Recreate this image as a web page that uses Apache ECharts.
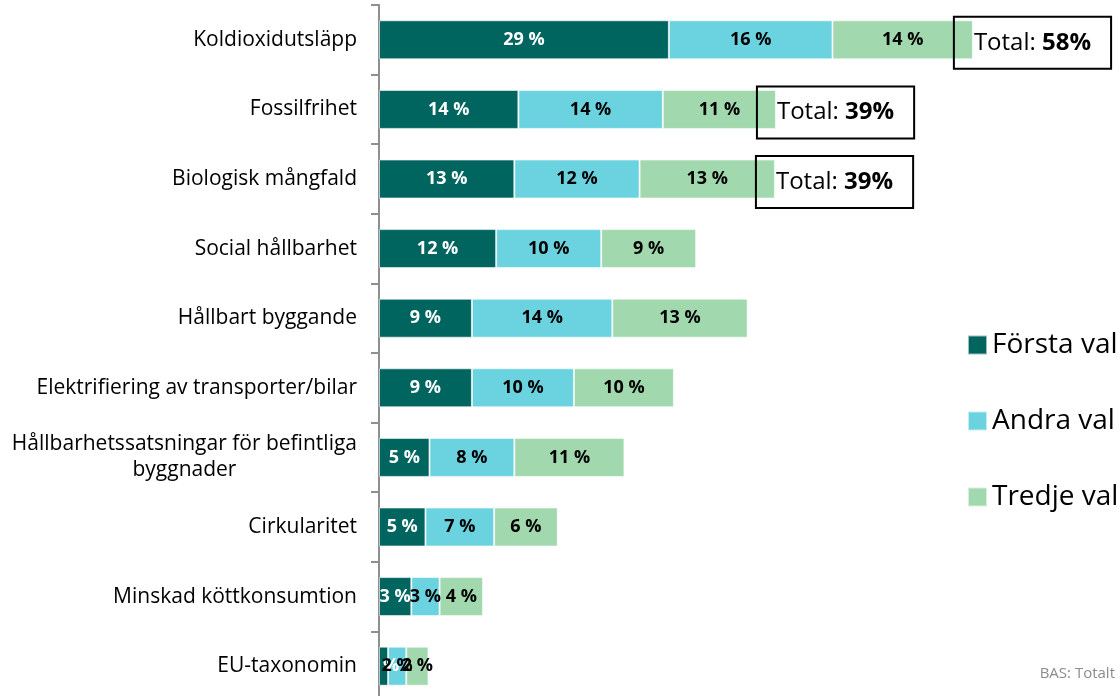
<!DOCTYPE html>
<html>
<head>
<meta charset="utf-8">
<title>Val av hållbarhetsområden</title>
<script src="https://cdn.jsdelivr.net/npm/echarts@6/dist/echarts.min.js"></script>
<style>
  html, body { margin: 0; padding: 0; background: #ffffff; }
  #chart { width: 1120px; height: 696px; }
</style>
</head>
<body>
<div id="chart"></div>
<script>
// kategorier, uppifrån och ned
const categories = [
  'Koldioxidutsläpp',
  'Fossilfrihet',
  'Biologisk mångfald',
  'Social hållbarhet',
  'Hållbart byggande',
  'Elektrifiering av transporter/bilar',
  'Hållbarhetssatsningar för befintliga\nbyggnader',
  'Cirkularitet',
  'Minskad köttkonsumtion',
  'EU-taxonomin'
];

// andel i procent
const forstaVal = [28.7, 13.8, 13.4, 11.6, 9.2, 9.2, 5.0, 4.6, 3.2, 0.9];
const andraVal  = [16.2, 14.3, 12.4, 10.4, 13.9, 10.1, 8.4, 6.8, 2.8, 1.8];
const tredjeVal = [13.9, 11.2, 13.4, 9.4, 13.4, 9.9, 10.9, 6.3, 4.3, 2.2];

// totaler som visas i rutorna (bara de tre första)
const totals = [58, 39, 39];

const seriesNames = ['Första val', 'Andra val', 'Tredje val'];
const colors = ['#00645f', '#6bd3df', '#a1d8ad'];
const FONT = "'Open Sans', sans-serif";

const chart = echarts.init(document.getElementById('chart'));

function barSeries(name, data, color, labelColor) {
  return {
    name: name,
    type: 'bar',
    stack: 'total',
    barWidth: 39,
    data: data,
    itemStyle: {
      color: color,
      borderColor: 'rgba(255,255,255,0.6)',
      borderWidth: 1
    },
    label: {
      show: true,
      position: 'inside',
      color: labelColor,
      fontSize: 18,
      fontWeight: 'bold',
      fontFamily: FONT,
      formatter: p => Math.round(p.value) + ' %'
    }
  };
}

const option = {
  animation: false,
  textStyle: { fontFamily: FONT },
  title: {
    text: 'BAS: Totalt',
    right: 0,
    bottom: 10,
    textStyle: { fontSize: 15, fontWeight: 'normal', color: '#8c8c8c', fontFamily: FONT }
  },
  legend: {
    data: seriesNames,
    orient: 'vertical',
    left: 967,
    top: 330,
    padding: 0,
    itemWidth: 19,
    itemHeight: 19,
    itemGap: 46,
    icon: 'rect',
    textStyle: { fontSize: 28, lineHeight: 30, color: '#000', fontFamily: FONT }
  },
  grid: {
    left: 379,
    right: 34,
    top: 5,
    height: 696,
    outerBoundsMode: 'none'   // axeln går ut under bildens nederkant
  },
  xAxis: {
    type: 'value',
    min: 0,
    max: 70,
    show: false
  },
  yAxis: {
    type: 'category',
    inverse: true,
    data: categories,
    axisLine: { lineStyle: { color: '#8f8f8f', width: 2 } },
    axisTick: { show: true, length: 8, lineStyle: { color: '#8f8f8f', width: 2 } },
    axisLabel: {
      margin: 22,
      color: '#000',
      fontSize: 21,
      fontFamily: FONT,
      // andra raden i den långa etiketten ska vara centrerad
      formatter: function (value) {
        const lines = value.split('\n');
        if (lines.length === 1) return '{a|' + value + '}';
        return '{a|' + lines[0] + '}\n' + lines.slice(1).map(l => '{c|' + l + '}').join('\n');
      },
      rich: {
        a: { fontSize: 21, lineHeight: 26, color: '#000', fontFamily: FONT, align: 'right' },
        c: { fontSize: 21, lineHeight: 26, color: '#000', fontFamily: FONT, align: 'center' }
      }
    }
  },
  series: [
    barSeries(seriesNames[0], forstaVal, colors[0], '#ffffff'),
    barSeries(seriesNames[1], andraVal, colors[1], '#000000'),
    barSeries(seriesNames[2], tredjeVal, colors[2], '#000000'),
    {
      // nollbred stapel i slutet av stacken, bär "Total"-rutan
      name: 'Total',
      type: 'bar',
      stack: 'total',
      barWidth: 39,
      data: categories.map((c, i) => (i < totals.length ? 0 : '-')),
      itemStyle: { color: 'transparent' },
      label: {
        show: true,
        position: 'right',
        distance: 0,
        offset: [-19, 3],
        borderColor: '#000',
        borderWidth: 2,
        padding: [10, 20, 10, 20],
        formatter: p => '{n|Total: }{b|' + totals[p.dataIndex] + '%}',
        rich: {
          n: { fontSize: 24, lineHeight: 32, color: '#000', fontFamily: FONT },
          b: { fontSize: 24, lineHeight: 32, color: '#000', fontWeight: 'bold', fontFamily: FONT }
        }
      }
    }
  ]
};

chart.setOption(option);
</script>
</body>
</html>
